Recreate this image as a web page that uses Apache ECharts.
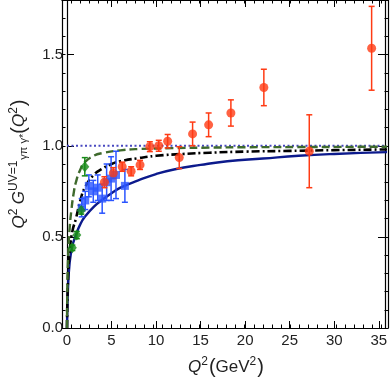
<!DOCTYPE html>
<html>
<head>
<meta charset="utf-8">
<script src="https://cdn.jsdelivr.net/npm/echarts@6/dist/echarts.min.js"></script>
<style>
  html, body { margin: 0; padding: 0; background: #fff; }
  #chart { width: 390px; height: 384px; }
</style>
</head>
<body>
<div id="chart"></div>
<script>
// curves
const blueX = [0, 0.1, 0.3, 0.6, 1, 1.5, 2, 3, 4, 5, 6, 8, 10, 12, 15, 18, 22, 26, 30, 36]
const blueY = [0, 0.2, 0.36, 0.45, 0.51, 0.57, 0.61, 0.665, 0.705, 0.74, 0.77, 0.81, 0.845, 0.87, 0.895, 0.915, 0.93, 0.945, 0.955, 0.965]
const blackX = [0, 0.1, 0.3, 0.6, 1, 1.5, 2, 3, 4, 5, 6, 8, 10, 13, 16, 20, 25, 30, 36]
const blackY = [0, 0.25, 0.42, 0.53, 0.6, 0.7, 0.77, 0.84, 0.875, 0.9, 0.915, 0.932, 0.945, 0.955, 0.962, 0.968, 0.972, 0.976, 0.98]
const greenX = [0, 0.05, 0.15, 0.3, 0.5, 0.75, 1, 1.5, 2, 3, 4, 6, 8, 12, 16, 20, 26, 36]
const greenY = [0, 0.25, 0.42, 0.55, 0.65, 0.74, 0.8, 0.87, 0.91, 0.945, 0.96, 0.975, 0.982, 0.987, 0.99, 0.992, 0.993, 0.995]
const refX = [0, 36]
const refY = [1, 1]

// data points with errors
const redX = [4.2, 5.2, 6.2, 7.2, 8.2, 9.3, 10.3, 11.3, 12.6, 14.1, 15.9, 18.4, 22.1, 27.2, 34.2]
const redY = [0.80, 0.85, 0.885, 0.86, 0.895, 0.995, 1.0, 1.025, 0.935, 1.065, 1.115, 1.18, 1.32, 0.97, 1.535]
const redErr = [0.03, 0.03, 0.025, 0.025, 0.025, 0.027, 0.03, 0.037, 0.06, 0.065, 0.065, 0.072, 0.1, 0.2, 0.23]
const cleoX = [1.65, 2.05, 2.45, 2.95, 3.45, 3.95, 4.45, 4.95, 5.5, 6.5]
const cleoY = [0.66, 0.70, 0.78, 0.75, 0.77, 0.71, 0.80, 0.82, 0.84, 0.78]
const cleoErr = [0.05, 0.05, 0.06, 0.06, 0.07, 0.08, 0.10, 0.12, 0.13, 0.09]
const celloX = [0.6, 1.1, 1.6, 2.0]
const celloY = [0.44, 0.51, 0.645, 0.885]
const celloErr = [0.015, 0.02, 0.02, 0.05]

const xRange = [0, 35.7]
const yRange = [0, 1.8]

const zip = (a, b, c) => a.map((v, i) => c ? [v, b[i], c[i]] : [v, b[i]])

function errBars(color) {
  return function (params, api) {
    const x = api.value(0), y = api.value(1), e = api.value(2)
    const t = api.coord([x, y + e])
    const b = api.coord([x, y - e])
    const st = { stroke: color, lineWidth: 1.5 }
    return {
      type: 'group',
      children: [
        { type: 'line', shape: { x1: t[0], y1: t[1], x2: b[0], y2: b[1] }, style: st },
        { type: 'line', shape: { x1: t[0] - 3, y1: t[1], x2: t[0] + 3, y2: t[1] }, style: st },
        { type: 'line', shape: { x1: b[0] - 3, y1: b[1], x2: b[0] + 3, y2: b[1] }, style: st }
      ]
    }
  }
}

const font = 'Liberation Sans, Arial, sans-serif'
const rich = {
  i: { fontStyle: 'italic', fontSize: 17, fontFamily: font, color: '#222' },
  n: { fontSize: 17, fontFamily: font, color: '#222' },
  p: { fontSize: 20, fontFamily: font, color: '#222' },
  sup: { fontSize: 12, fontFamily: font, color: '#222', padding: [0, 1, 10, 0] },
  sub: { fontSize: 11, fontFamily: font, color: '#222', padding: [10, 0, 0, 0] }
}

// grid 0 carries major ticks + labels, grid 1 (same rect) the minor ticks
function xAx(grid, pos, major, labels) {
  return {
    type: 'value', gridIndex: grid, position: pos, min: xRange[0], max: xRange[1],
    interval: major ? 5 : 1,
    axisLine: { show: true, onZero: false, lineStyle: { color: '#000', width: 1.2 } },
    axisTick: { show: true, inside: true, length: major ? 7 : 3.5, lineStyle: { color: '#000' } },
    axisLabel: {
      show: labels, margin: 5, fontSize: 15, fontFamily: font, color: '#222',
      formatter: v => (v % 5 === 0 ? String(v) : '')
    },
    splitLine: { show: false }
  }
}
function yAx(grid, pos, major, labels) {
  return {
    type: 'value', gridIndex: grid, position: pos, min: yRange[0], max: yRange[1],
    interval: major ? 0.5 : 0.1,
    axisLine: { show: true, onZero: false, lineStyle: { color: '#000', width: 1.2 } },
    axisTick: { show: true, inside: true, length: major ? 7 : 3.5, lineStyle: { color: '#000' } },
    axisLabel: {
      show: labels, margin: 4, fontSize: 15, fontFamily: font, color: '#222',
      formatter: v => (Math.abs(v * 2 - Math.round(v * 2)) < 1e-6 && v < 1.75 ? v.toFixed(1) : '')
    },
    splitLine: { show: false }
  }
}

const chart = echarts.init(document.getElementById('chart'), null, { renderer: 'canvas' })
const xAxes = [xAx(0, 'bottom', true, true), xAx(0, 'top', true, false), xAx(1, 'bottom', false, false), xAx(1, 'top', false, false)]
xAxes[0].name = '{i|Q}{sup|2}{p|(}{n|GeV}{sup|2}{p|)}'
xAxes[0].nameLocation = 'middle'
xAxes[0].nameGap = 28
xAxes[0].nameTextStyle = { rich }
const yAxes = [yAx(0, 'left', true, true), yAx(0, 'right', true, false), yAx(1, 'left', false, false), yAx(1, 'right', false, false)]
yAxes[0].name = '{i|Q}{sup|2} {i|G}{sup|UV=1}{sub|γπ γ*}{p|(}{i|Q}{sup|2}{p|)}'
yAxes[0].nameLocation = 'middle'
yAxes[0].nameGap = 37
yAxes[0].nameTextStyle = { rich }

const lineBase = { type: 'line', showSymbol: false, symbol: 'none', smooth: true, silent: true, z: 2 }
const gridRect = { left: 62, right: 2, top: 0, bottom: 56 }

chart.setOption({
  animation: false,
  grid: [Object.assign({}, gridRect), Object.assign({}, gridRect)],
  xAxis: xAxes,
  yAxis: yAxes,
  series: [
    Object.assign({}, lineBase, { data: zip(refX, refY), smooth: false,
      lineStyle: { color: '#4848c0', width: 2, type: [2, 2.5] } }),
    Object.assign({}, lineBase, { data: zip(blueX, blueY),
      lineStyle: { color: '#0c1a8c', width: 2.4 } }),
    Object.assign({}, lineBase, { data: zip(blackX, blackY),
      lineStyle: { color: '#000', width: 2.6, type: [8, 3, 2, 3] } }),
    Object.assign({}, lineBase, { data: zip(greenX, greenY),
      lineStyle: { color: '#3e6a2c', width: 2.4, type: [8, 4] } }),
    { type: 'custom', renderItem: errBars('#2b55ff'), data: zip(cleoX, cleoY, cleoErr), z: 3, silent: true },
    { type: 'scatter', data: zip(cleoX, cleoY), symbol: 'rect', symbolSize: 8, itemStyle: { color: '#2b55ff' }, z: 4 },
    { type: 'custom', renderItem: errBars('#178a17'), data: zip(celloX, celloY, celloErr), z: 3, silent: true },
    { type: 'scatter', data: zip(celloX, celloY), symbol: 'diamond', symbolSize: [9, 11], itemStyle: { color: '#178a17' }, z: 4 },
    { type: 'custom', renderItem: errBars('#ff3b14'), data: zip(redX, redY, redErr), z: 3, silent: true },
    { type: 'scatter', data: zip(redX, redY), symbol: 'circle', symbolSize: 9, itemStyle: { color: '#ff3b14' }, z: 4 }
  ]
})
</script>
</body>
</html>
